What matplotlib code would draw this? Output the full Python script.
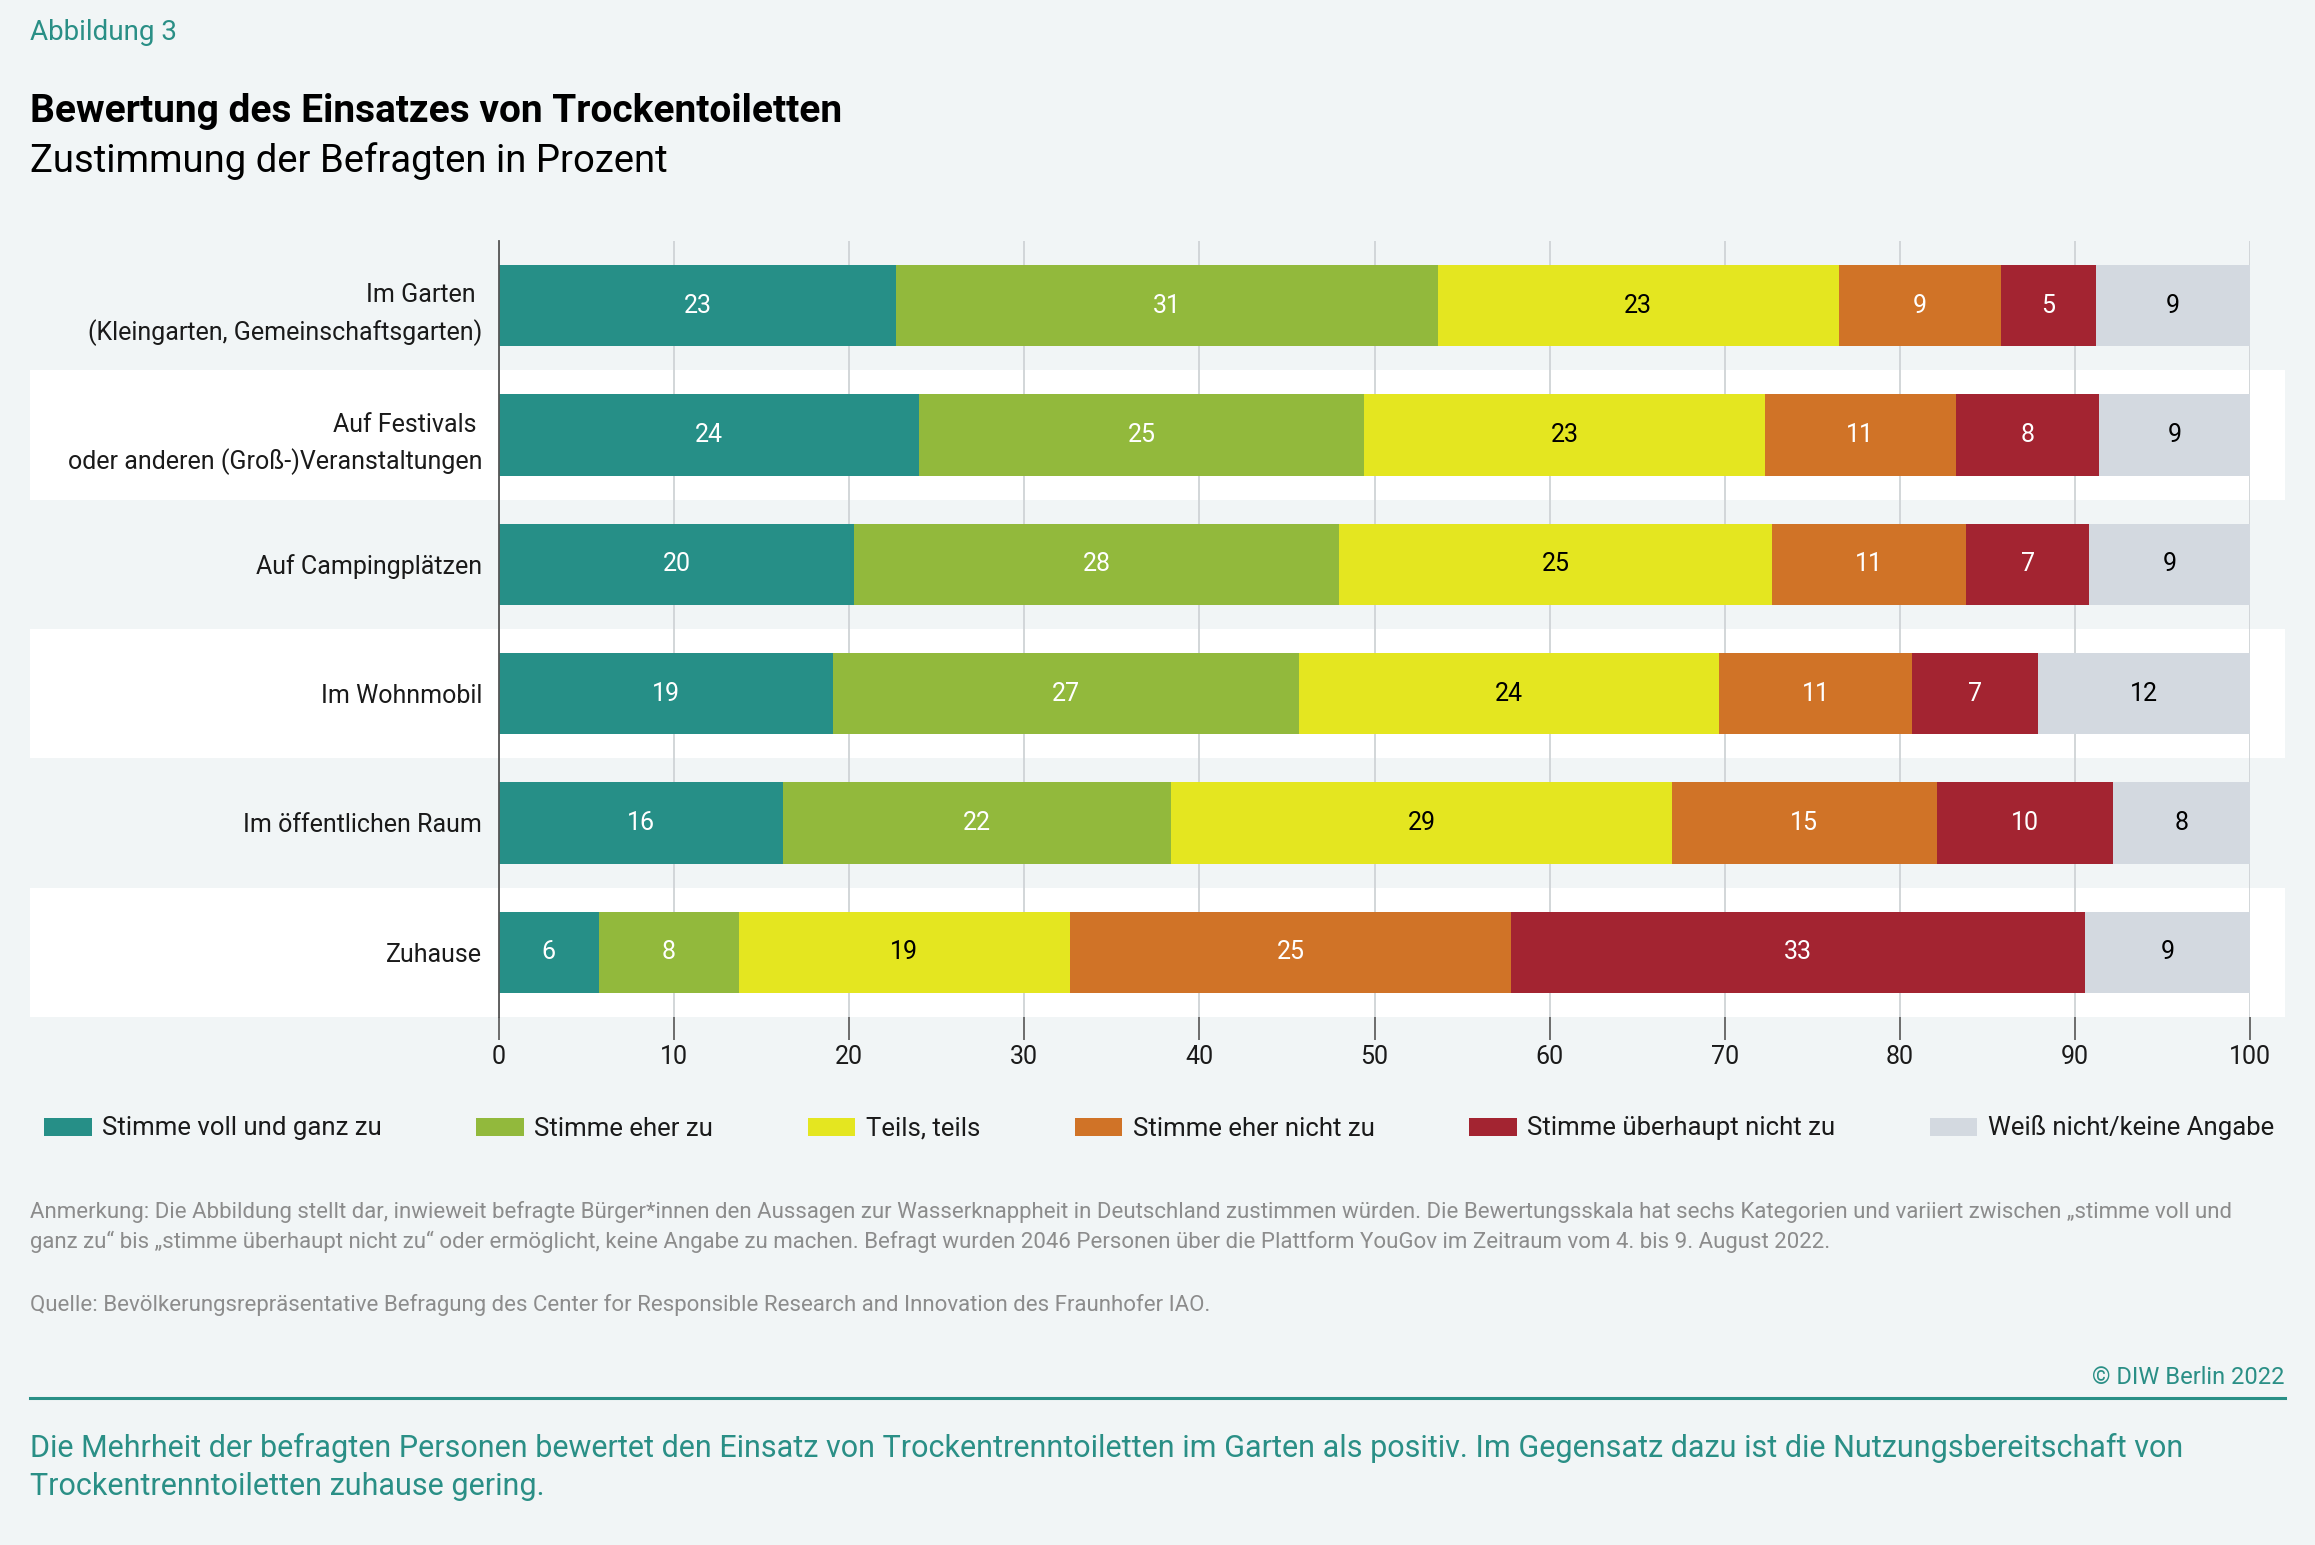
import numpy as np
import matplotlib.pyplot as plt
from matplotlib.patches import Rectangle, Patch
from matplotlib.transforms import blended_transform_factory

plt.rcParams['font.family'] = ['Roboto', 'DejaVu Sans']

# data
kategorien = ["Im Garten \n(Kleingarten, Gemeinschaftsgarten)",
              "Auf Festivals \noder anderen (Groß-)Veranstaltungen",
              "Auf Campingplätzen",
              "Im Wohnmobil",
              "Im öffentlichen Raum",
              "Zuhause"]
voll_und_ganz = [22.7, 24.0, 20.3, 19.1, 16.2, 5.7]
eher_zu = [30.9, 25.4, 27.7, 26.6, 22.2, 8.0]
teils = [22.9, 22.9, 24.7, 24.0, 28.6, 18.9]
eher_nicht = [9.3, 10.9, 11.1, 11.0, 15.1, 25.2]
ueberhaupt_nicht = [5.4, 8.2, 7.0, 7.2, 10.1, 32.8]
weiss_nicht = [8.8, 8.6, 9.2, 12.1, 7.8, 9.4]

serien = ["Stimme voll und ganz zu", "Stimme eher zu", "Teils, teils",
          "Stimme eher nicht zu", "Stimme überhaupt nicht zu", "Weiß nicht/keine Angabe"]
werte = [voll_und_ganz, eher_zu, teils, eher_nicht, ueberhaupt_nicht, weiss_nicht]
farben = ['#268f87', '#92b93c', '#e4e620', '#d07327', '#a32431', '#d3d9e0']
textfarben = ['white', 'white', 'black', 'white', 'white', 'black']

W, H = 2315, 1545
BG = '#f1f5f6'
TEAL = '#2a8f86'

def fx(x):
    return x / W

def fy(y):
    return 1 - y / H

fig = plt.figure(figsize=(W / 100, H / 100), dpi=100)
fig.patch.set_facecolor(BG)

ax = fig.add_axes([fx(499), fy(1017), (2250 - 499) / W, (1017 - 241) / H])
ax.set_facecolor('none')

y = np.arange(len(kategorien))
links = np.zeros(len(kategorien))
for name, v, c, tc in zip(serien, werte, farben, textfarben):
    v = np.array(v)
    bars = ax.barh(y, v, left=links, height=0.63, color=c, zorder=1)
    ax.bar_label(bars, labels=[f"{x:.0f}" for x in v], label_type='center',
                 color=tc, fontsize=18)
    links += v

ax.set_xlim(0, 100)
ax.set_ylim(len(kategorien) - 0.5, -0.5)

# weisse Baender hinter jeder zweiten Zeile
trans = blended_transform_factory(ax.transAxes, ax.transData)
x0 = (30 - 499) / 1751
x1 = (2285 - 499) / 1751
for i in range(1, len(kategorien), 2):
    ax.add_patch(Rectangle((x0, i - 0.5), x1 - x0, 1, transform=trans,
                           facecolor='white', edgecolor='none', zorder=0.2, clip_on=False))

ax.set_xticks(range(0, 101, 10))
ax.set_yticks(y)
ax.set_yticklabels(kategorien, fontsize=18, color='#1a1a1a', linespacing=1.55)
ax.grid(axis='x', color='#cfd3d6', lw=1.3)
ax.set_axisbelow(True)
ax.tick_params(axis='y', length=0, pad=12)
ax.tick_params(axis='x', length=16.5, width=1.2, color='#555555', labelsize=18,
               labelcolor='#1a1a1a', pad=4)
for s in ['top', 'right', 'bottom']:
    ax.spines[s].set_visible(False)
ax.spines['left'].set_color('#555555')
ax.spines['left'].set_linewidth(1.3)
ax.spines['left'].set_bounds(-0.5, len(kategorien) - 0.5)

# legend
handles = [Patch(facecolor=c, edgecolor='none', label=n) for n, c in zip(serien, farben)]
fig.legend(handles=handles, ncol=6, loc='center', mode='expand',
           bbox_to_anchor=(fx(44), fy(1146), fx(2274) - fx(44), 36 / H),
           bbox_transform=fig.transFigure, frameon=False, fontsize=18.5,
           handlelength=1.85, handleheight=0.7, handletextpad=0.4,
           borderaxespad=0, borderpad=0, labelcolor='#1a1a1a')

# texts
fig.text(fx(30), fy(33), "Abbildung 3", color=TEAL, fontsize=20, va='center')
fig.text(fx(30), fy(111), "Bewertung des Einsatzes von Trockentoiletten",
         fontsize=28, fontweight='bold', va='center', color='black')
fig.text(fx(30), fy(161), "Zustimmung der Befragten in Prozent",
         fontsize=27.5, va='center', color='black')

notiz = ("Anmerkung: Die Abbildung stellt dar, inwieweit befragte Bürger*innen den Aussagen zur Wasserknappheit in Deutschland zustimmen würden. "
         "Die Bewertungsskala hat sechs Kategorien und variiert zwischen „stimme voll und\n"
         "ganz zu“ bis „stimme überhaupt nicht zu“ oder ermöglicht, keine Angabe zu machen. "
         "Befragt wurden 2046 Personen über die Plattform YouGov im Zeitraum vom 4. bis 9. August 2022.")
fig.text(fx(30), fy(1227), notiz, fontsize=16, color='#8c8c8c', va='center', linespacing=1.45)
fig.text(fx(30), fy(1305), "Quelle: Bevölkerungsrepräsentative Befragung des Center for Responsible Research "
         "and Innovation des Fraunhofer IAO.", fontsize=16, color='#8c8c8c', va='center')

fig.text(fx(2285), fy(1377), "© DIW Berlin 2022", fontsize=17, color=TEAL, va='center', ha='right')
fig.add_artist(plt.Line2D([fx(30), fx(2285)], [fy(1398), fy(1398)], color=TEAL, lw=2.2))

fazit = ("Die Mehrheit der befragten Personen bewertet den Einsatz von Trockentrenntoiletten im Garten als positiv. "
         "Im Gegensatz dazu ist die Nutzungsbereitschaft von\nTrockentrenntoiletten zuhause gering.")
fig.text(fx(30), fy(1467), fazit, fontsize=22, color=TEAL, va='center', linespacing=1.38)

fig.savefig('out.png', dpi=100, facecolor=BG)
